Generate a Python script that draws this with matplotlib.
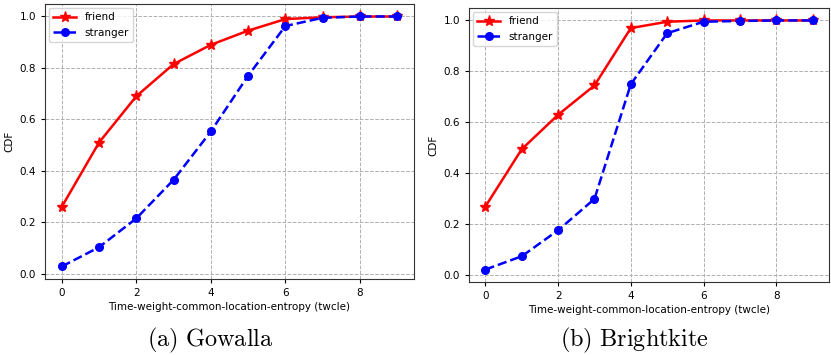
import matplotlib
matplotlib.use("Agg")
import matplotlib.pyplot as plt

x = list(range(10))
gowalla_friend = [0.26, 0.51, 0.69, 0.815, 0.89, 0.945, 0.99, 0.997, 1.0, 1.0]
gowalla_stranger = [0.028, 0.103, 0.215, 0.365, 0.553, 0.77, 0.963, 0.995, 1.0, 1.0]
bright_friend = [0.27, 0.495, 0.63, 0.745, 0.97, 0.995, 1.0, 1.0, 1.0, 1.0]
bright_stranger = [0.023, 0.075, 0.177, 0.30, 0.75, 0.95, 0.995, 0.998, 1.0, 1.0]
xlabel = "Time-weight-common-location-entropy (twcle)"
ylabel = "CDF"
captions = [r"$\mathrm{(a)\ Gowalla}$", r"$\mathrm{(b)\ Brightkite}$"]
xticks = [0, 2, 4, 6, 8]
yticks = [0.0, 0.2, 0.4, 0.6, 0.8, 1.0]

plt.rcParams['mathtext.fontset'] = 'cm'
fig = plt.figure(figsize=(8.31, 3.55), dpi=100)
W, H = 831, 355
boxes = [(45, 4, 414, 279), (469, 8, 829, 282)]
data = [(gowalla_friend, gowalla_stranger), (bright_friend, bright_stranger)]
cap_x = [210.5, 634]

for (l, t, r, b), (fr, st), cap, cx in zip(boxes, data, captions, cap_x):
    ax = fig.add_axes([l / W, 1 - b / H, (r - l) / W, (b - t) / H])
    ax.plot(x, fr, color='red', linestyle='-', marker='*', markersize=8, linewidth=1.8, label='friend')
    ax.plot(x, st, color='blue', linestyle='--', marker='o', markersize=5.5, linewidth=1.8, label='stranger')
    ax.set_xticks(xticks)
    ax.set_yticks(yticks)
    ax.grid(True, linestyle='--', color='#b0b0b0', linewidth=0.7)
    ax.tick_params(labelsize=7.5, length=3)
    ax.set_xlabel(xlabel, fontsize=7.5, labelpad=3)
    ax.set_ylabel(ylabel, fontsize=7.5)
    ax.legend(loc='upper left', fontsize=7.5, handlelength=2.2, borderaxespad=0.4)
    for s in ax.spines.values():
        s.set_color('#333333')
    fig.text(cx / W, 1 - 340 / H, cap, fontsize=17.5, ha='center', va='center')

fig.savefig("out.png", dpi=100)
